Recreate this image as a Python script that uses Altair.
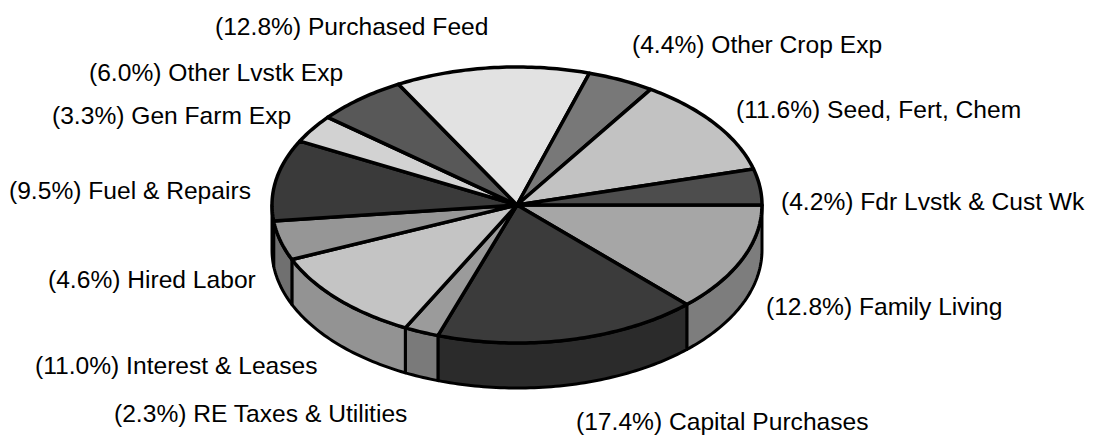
import math
import altair as alt
import pandas as pd

# Values, clockwise from the 3 o'clock position
labels = ["Family Living", "Capital Purchases", "RE Taxes & Utilities", "Interest & Leases",
          "Hired Labor", "Fuel & Repairs", "Gen Farm Exp", "Other Lvstk Exp",
          "Purchased Feed", "Other Crop Exp", "Seed, Fert, Chem", "Fdr Lvstk & Cust Wk"]
shares = [12.8, 17.4, 2.3, 11.0, 4.6, 9.5, 3.3, 6.0, 12.8, 4.4, 11.6, 4.2]
top_shades = ["#a6a6a6", "#3b3b3b", "#9b9b9b", "#c4c4c4", "#969696", "#3a3a3a",
              "#d2d2d2", "#585858", "#e2e2e2", "#787878", "#c2c2c2", "#4d4d4d"]
side_shades = ["#7d7d7d", "#2b2b2b", "#7a7a7a", "#939393", "#707070", "#2b2b2b",
               "#a0a0a0", "#444444", "#b0b0b0", "#5c5c5c", "#989898", "#3a3a3a"]

# Layout (page pixels: text start and baseline)
CX, CY, RX, RY, DEPTH = 517.0, 205.0, 245.0, 138.0, 45.0
label_anchor = [(766, 315), (576, 430), (114, 422), (35, 374), (48, 288), (9, 199),
                (52, 124), (89, 81), (215, 35), (632, 53), (736, 118), (781, 210)]


def pt(deg, drop=0.0):
    a = math.radians(deg)
    return CX + RX * math.cos(a), CY + RY * math.sin(a) + drop


def arc(a0, a1, drop=0.0):
    n = max(2, int(abs(a1 - a0)) + 2)
    return [pt(a0 + (a1 - a0) * i / (n - 1), drop) for i in range(n)]


total = sum(shares)
top_rows, side_rows, text_rows = [], [], []
start = 0.0
for i, (name, share) in enumerate(zip(labels, shares)):
    end = start + share / total * 360.0
    verts = [(CX, CY)] + arc(start, end) + [(CX, CY)]
    for j, (x, y) in enumerate(verts):
        top_rows.append(dict(w=name, seq=j, x=x, y=y, shade=top_shades[i]))
    if start < 180.0:
        e = min(end, 180.0)
        verts = arc(start, e) + arc(e, start, DEPTH)
        verts.append(verts[0])
        for j, (x, y) in enumerate(verts):
            side_rows.append(dict(w=name, seq=j, x=x, y=y, shade=side_shades[i]))
    text_rows.append(dict(text=f"({share:.1f}%) {name}", x=label_anchor[i][0], y=label_anchor[i][1]))
    start = end

x_scale = alt.Scale(domain=[8, 1086], range=[0, 1078], nice=False, zero=False)
y_scale = alt.Scale(domain=[8, 436], range=[0, 428], nice=False, zero=False)
X = alt.X("x:Q", scale=x_scale, axis=None)
Y = alt.Y("y:Q", scale=y_scale, axis=None)


def faces(rows, width):
    return alt.Chart(pd.DataFrame(rows)).mark_line(
        stroke="#000000", strokeWidth=width, strokeJoin="round", clip=False
    ).encode(
        x=X, y=Y, detail="w:N", order="seq:Q",
        fill=alt.Fill("shade:N", scale=None),
    )


text = alt.Chart(pd.DataFrame(text_rows)).mark_text(
    align="left", baseline="alphabetic", font="Liberation Sans", fontSize=24.6, color="#000000"
).encode(x=X, y=Y, text="text:N")

chart = alt.layer(faces(side_rows, 3), faces(top_rows, 3.5), text).properties(
    width=1078, height=428, padding=0,
    autosize=alt.AutoSizeParams(type="none"),
).configure_view(stroke=None)

chart.save("out.html", embed_options={"renderer": "svg", "actions": False})
